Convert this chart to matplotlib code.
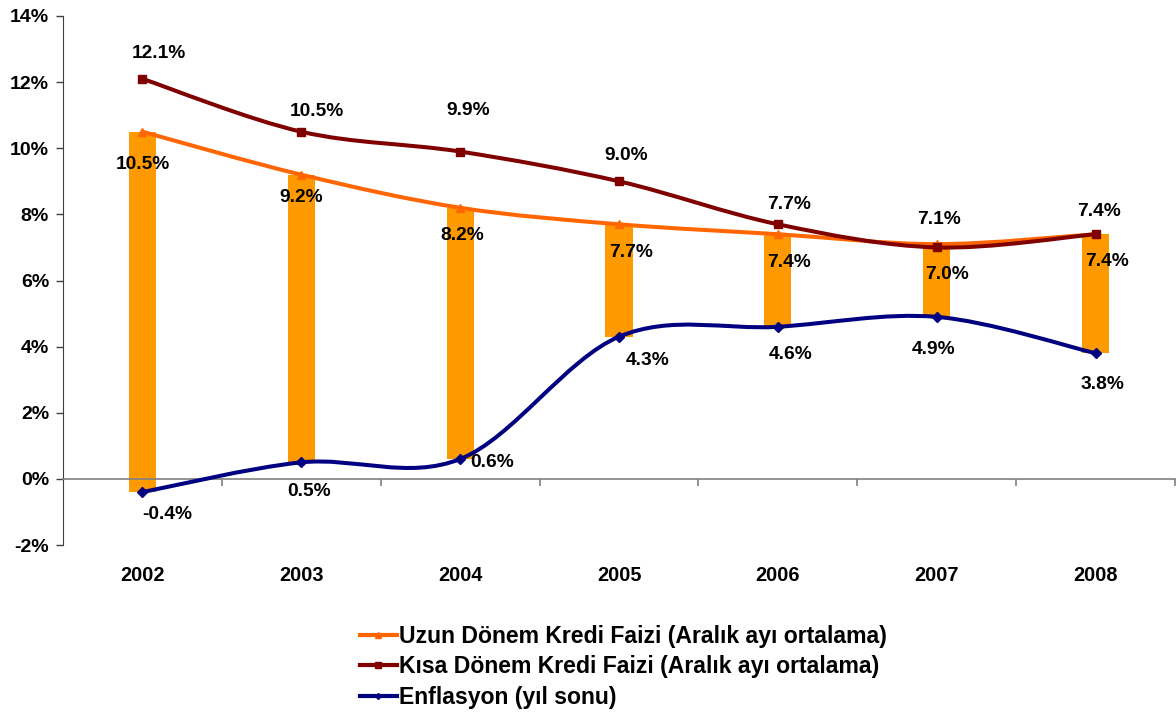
import numpy as np
import matplotlib
matplotlib.use("Agg")
import matplotlib.pyplot as plt
from matplotlib.path import Path
from matplotlib.patches import PathPatch
from matplotlib.lines import Line2D

plt.rcParams['font.family'] = ['Liberation Sans', 'DejaVu Sans']
plt.rcParams['font.weight'] = 'bold'

years = ['2002', '2003', '2004', '2005', '2006', '2007', '2008']
uzun = [10.5, 9.2, 8.2, 7.7, 7.4, 7.1, 7.4]
kisa = [12.1, 10.5, 9.9, 9.0, 7.7, 7.0, 7.4]
enf = [-0.4, 0.5, 0.6, 4.3, 4.6, 4.9, 3.8]
uzun_labels = ['10.5%', '9.2%', '8.2%', '7.7%', '7.4%', '7.0%', '7.4%']
kisa_labels = ['12.1%', '10.5%', '9.9%', '9.0%', '7.7%', '7.1%', '7.4%']
enf_labels = ['-0.4%', '0.5%', '0.6%', '4.3%', '4.6%', '4.9%', '3.8%']
series_names = ['Uzun Dönem Kredi Faizi (Aralık ayı ortalama)',
                'Kısa Dönem Kredi Faizi (Aralık ayı ortalama)',
                'Enflasyon (yıl sonu)']

# label offsets in pixels (layout)
kisa_off = [(16, 25), (16, 20), (8, 41), (7, 26), (11, 20), (2, 28), (3, 23)]
uzun_off = [(0, -33), (0, -23), (2, -28), (12, -28), (11, -28), (10, -30), (11, -27)]
enf_off = [(25, -22), (8, -29), (32, -3), (29, -24), (13, -28), (-3, -33), (7, -31)]

C_UZ = '#FF6600'
C_KI = '#800000'
C_EN = '#000080'
C_BAR = '#FF9900'

fig = plt.figure(figsize=(11.76, 7.13), dpi=100)
ax = fig.add_axes([63/1176, 1-545/713, (1175-63)/1176, (545-16)/713])

x = np.arange(len(years))


def smooth_path(xs, ys):
    pts = np.column_stack([xs, ys]).astype(float)
    n = len(pts)
    verts = [pts[0]]
    codes = [Path.MOVETO]
    for i in range(n - 1):
        p0 = pts[i - 1] if i > 0 else pts[i]
        p1 = pts[i]
        p2 = pts[i + 1]
        p3 = pts[i + 2] if i + 2 < n else pts[i + 1]
        c1 = p1 + (p2 - p0) / 6.0
        c2 = p2 - (p3 - p1) / 6.0
        verts += [c1, c2, p2]
        codes += [Path.CURVE4] * 3
    return Path(verts, codes)


# bars between long-term rate and inflation
ax.bar(x, np.array(uzun) - np.array(enf), bottom=enf, width=0.17,
       color=C_BAR, zorder=2)

for vals, col, mk, ms in [(uzun, C_UZ, '^', 6), (kisa, C_KI, 's', 6), (enf, C_EN, 'D', 5)]:
    ax.add_patch(PathPatch(smooth_path(x, vals), facecolor='none', edgecolor=col,
                           lw=2.9, zorder=3, capstyle='round'))
    ax.plot(x, vals, linestyle='none', marker=mk, ms=ms, color=col, zorder=4)

for vals, labs, offs in [(kisa, kisa_labels, kisa_off), (uzun, uzun_labels, uzun_off),
                         (enf, enf_labels, enf_off)]:
    for xi, v, lab, off in zip(x, vals, labs, offs):
        ax.annotate(lab, (xi, v), xytext=off, textcoords='offset pixels',
                    ha='center', va='center', fontsize=13.8, fontweight='bold',
                    color='black', zorder=5)

ax.set_xlim(-0.5, len(years) - 0.5)
ax.set_ylim(-2, 14)
ax.set_yticks(np.arange(-2, 15, 2))
ax.set_yticklabels([f'{v}%' for v in range(-2, 15, 2)], fontsize=14, fontweight='bold')
ax.tick_params(axis='y', length=5, width=1, color='#404040', pad=5)

ax.spines['top'].set_visible(False)
ax.spines['right'].set_visible(False)
ax.spines['left'].set_color('#404040')
ax.spines['bottom'].set_position(('data', 0))
ax.spines['bottom'].set_color('#808080')
ax.spines['bottom'].set_linewidth(1.2)

ax.set_xticks(x)
ax.set_xticklabels(years, fontsize=14.3, fontweight='bold')
ax.set_xticks(np.arange(-0.5, len(years), 1.0)[1:], minor=True)
ax.tick_params(axis='x', which='major', length=0, pad=63)
ax.tick_params(axis='x', which='minor', length=5, color='#808080', width=1.2, direction='out')

handles = [Line2D([], [], color=C_UZ, lw=3, marker='^', ms=4),
           Line2D([], [], color=C_KI, lw=3, marker='s', ms=4),
           Line2D([], [], color=C_EN, lw=3, marker='D', ms=3)]
fig.legend(handles, series_names, loc='upper left',
           bbox_to_anchor=(360/1176, 1-625/713), frameon=False,
           prop={'size': 16.6, 'weight': 'bold'}, handlelength=1.6,
           handletextpad=0.1, labelspacing=0.32, borderaxespad=0, borderpad=0)

fig.savefig('out.png', dpi=100)
